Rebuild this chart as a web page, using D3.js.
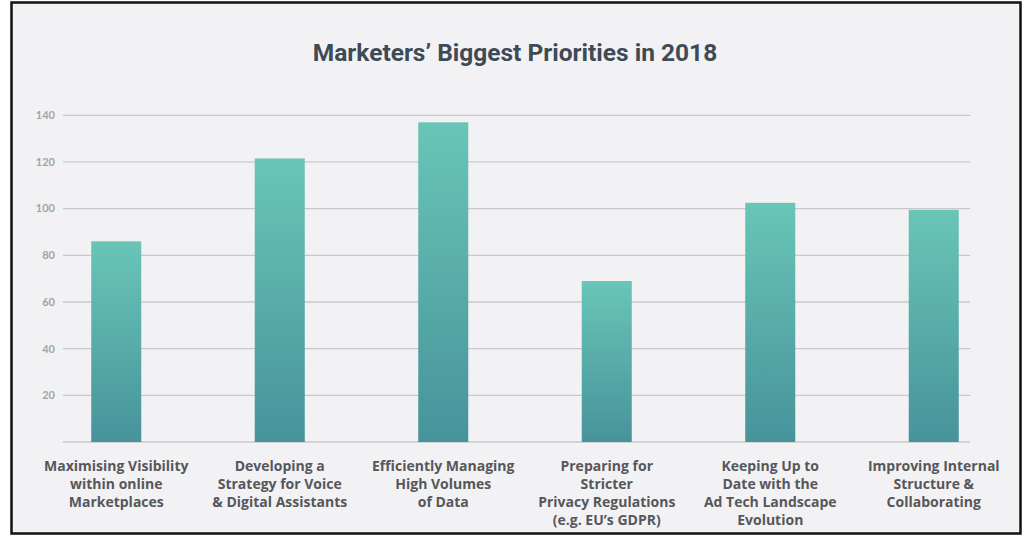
<!DOCTYPE html>
<html><head><meta charset="utf-8">
<script src="https://cdn.jsdelivr.net/npm/d3@7"></script>
<style>html,body{margin:0;padding:0;background:#fff;}</style>
</head><body>
<svg id="c" width="1024" height="536"></svg>
<script>
const categories = [
  ["Maximising Visibility","within online","Marketplaces"],
  ["Developing a","Strategy for Voice","& Digital Assistants"],
  ["Efficiently Managing","High Volumes","of Data"],
  ["Preparing for","Stricter","Privacy Regulations","(e.g. EU\u2019s GDPR)"],
  ["Keeping Up to","Date with the","Ad Tech Landscape","Evolution"],
  ["Improving Internal","Structure &","Collaborating"]
];
const values = [86, 121.5, 137, 69, 102.5, 99.5];
const tickValues = [20, 40, 60, 80, 100, 120, 140];
const title = "Marketers\u2019 Biggest Priorities in 2018";

const svg = d3.select("#c");
svg.append("rect").attr("x",11.5).attr("y",2.5).attr("width",1009).attr("height",531)
  .attr("fill","#f2f2f4").attr("stroke","#111").attr("stroke-width",2.5);

const defs = svg.append("defs");
const g = defs.append("linearGradient").attr("id","bg").attr("x1",0).attr("y1",0).attr("x2",0).attr("y2",1);
g.append("stop").attr("offset","0%").attr("stop-color","#69c5b7");
g.append("stop").attr("offset","100%").attr("stop-color","#47939b");

const x = d3.scaleBand().domain(d3.range(categories.length)).range([34.5, 1015.5]).paddingInner(0.694).paddingOuter(0.347);
const y = d3.scaleLinear().domain([0, 140]).range([442, 115.3]);

const gl = {x0: 63, x1: 970};
svg.append("g").selectAll("line").data([0].concat(tickValues)).join("line")
  .attr("x1", gl.x0).attr("x2", gl.x1)
  .attr("y1", d => y(d)).attr("y2", d => y(d))
  .attr("stroke", "#c8c8cc").attr("stroke-width", 1.3);

svg.append("g").selectAll("text").data(tickValues).join("text")
  .attr("x", 55).attr("y", d => y(d)).attr("dy", "0.35em")
  .attr("text-anchor", "end").attr("fill", "#a3a3a8")
  .attr("font-family", "Lato, 'Open Sans', sans-serif").attr("font-weight", 700).attr("font-size", 11)
  .text(d => d);

svg.append("g").selectAll("rect").data(values).join("rect")
  .attr("x", (d,i) => x(i)).attr("width", x.bandwidth())
  .attr("y", d => y(d)).attr("height", d => y(0) - y(d))
  .attr("fill", "url(#bg)");

svg.append("text").attr("x", 515).attr("y", 61).attr("text-anchor","middle")
  .attr("fill", "#3e4b56").attr("font-family","Roboto, 'Open Sans', sans-serif")
  .attr("font-weight", 700).attr("font-size", 24.5).text(title);

const lab = svg.append("g").selectAll("text").data(categories).join("text")
  .attr("text-anchor","middle").attr("fill","#56575b")
  .attr("font-family","'Open Sans', Lato, sans-serif").attr("font-weight",700).attr("font-size",14)
  .attr("transform",(d,i)=>`translate(${x(i)+x.bandwidth()/2},${471})`);
lab.selectAll("tspan").data(d=>d).join("tspan")
  .attr("x",0).attr("y",(d,j)=>j*18).text(d=>d);
</script>
</body></html>
